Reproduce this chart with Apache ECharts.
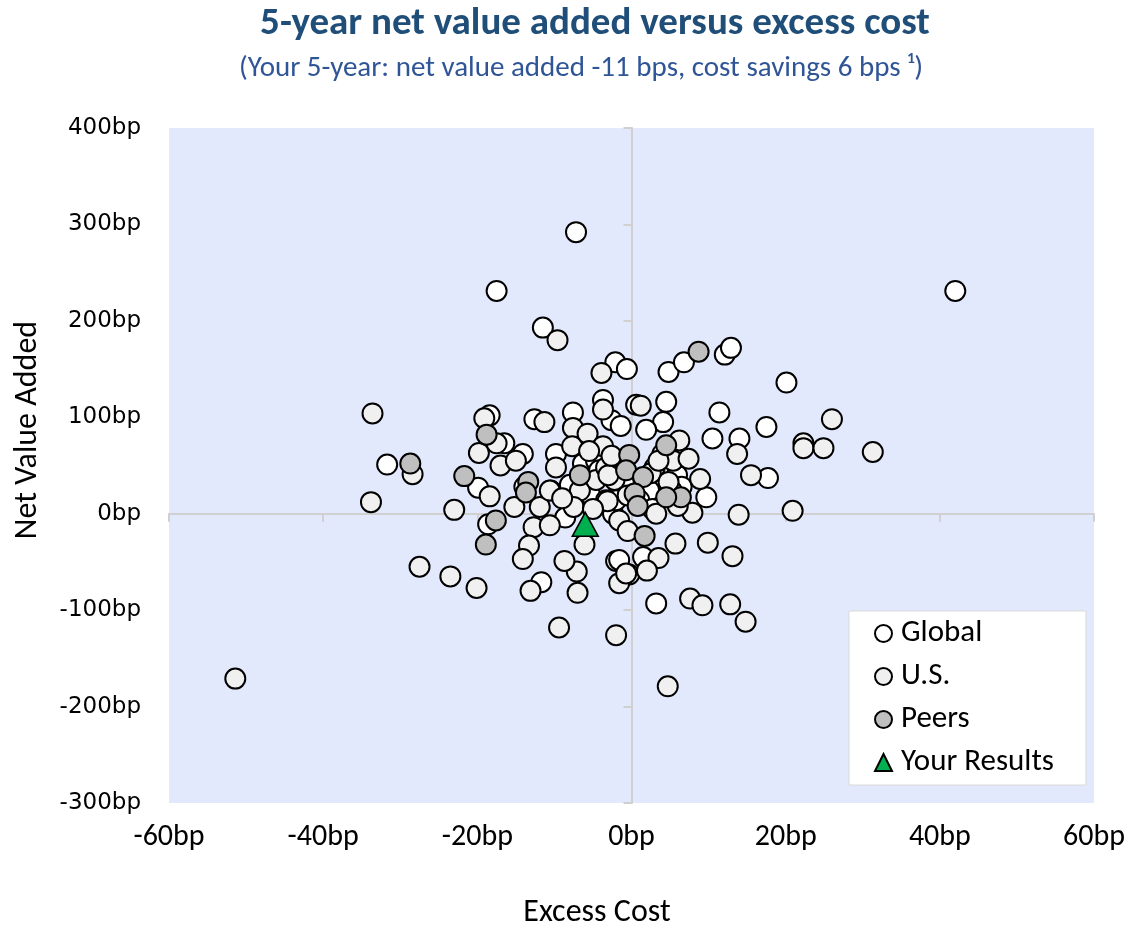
<!DOCTYPE html>
<html>
<head>
<meta charset="utf-8">
<script src="https://cdn.jsdelivr.net/npm/echarts@6/dist/echarts.min.js"></script>
<style>
  html, body { margin: 0; padding: 0; background: #fff; }
  #chart { width: 1128px; height: 930px; }
</style>
</head>
<body>
<div id="chart"></div>
<script>
// [excess cost bp, net value added bp]
const globalPts = [
  [-7.2, 292], [-17.5, 231], [42.0, 231], [-11.5, 193],
  [-31.7, 51], [-18.4, 102], [-12.6, 98], [-7.6, 105], [-3.7, 118], [-2.6, 97],
  [-16.5, 73], [-14.1, 62], [-9.8, 62], [-3.3, 52], [-19.9, 27], [-18.6, -11],
  [-8.6, -4], [-11.7, -71], [-2.0, -49], [-2.4, 0], [-0.3, -63], [-6.3, 52],
  [-4.6, 55], [-1.6, 27], [-2.0, 14], [-10.5, 24], [-8.9, 21], [-13.9, 28],
  [-2.1, 157], [-0.6, 150], [4.8, 147], [6.8, 157], [12.1, 165], [12.9, 172],
  [20.1, 136], [4.5, 116], [0.6, 113], [-1.4, 91], [4.1, 95], [1.9, 87],
  [11.4, 105], [10.5, 78], [14.0, 78], [17.5, 90], [17.7, 37], [9.7, 17],
  [3.2, -93], [3.6, 29], [2.3, 24], [1.0, 14], [1.5, -45], [-1.6, -48],
  [-4.2, 45], [-1.0, 33], [3.0, 48], [5.9, 40], [2.7, 5], [-5.4, 20], [-8.0, 30], [6.5, 28]
];
const usPts = [
  [-9.6, 180], [-3.9, 146], [-33.6, 104], [-28.4, 41], [-33.8, 12], [-23.0, 4],
  [-18.4, 18], [-27.5, -55], [-23.5, -65], [-20.1, -77], [-15.2, 7], [-11.9, 7],
  [-12.7, -14], [-10.6, -12], [-10.6, 24], [-13.3, -33], [-14.1, -47], [-13.1, -80],
  [-17.0, 50], [-19.8, 63], [-19.1, 99], [-17.5, 73], [-15.0, 55], [-11.3, 95],
  [-9.8, 48], [-7.6, 89], [-7.7, 70], [-5.7, 83], [-6.7, 24], [-7.5, 7],
  [-3.3, 14], [-3.7, 70], [-3.7, 108], [1.2, 112], [-1.6, -7], [-0.5, -18],
  [-6.1, -32], [-7.1, -60], [-7.0, -82], [-8.7, -49], [-1.6, -72], [-4.6, 35],
  [-3.3, 48], [-2.2, 35], [-9.4, -118], [-2.0, -126], [4.7, -179], [-51.4, -171],
  [26.0, 98], [13.7, 62], [22.3, 73], [22.3, 68], [24.9, 68], [31.3, 64],
  [15.5, 40], [13.9, -1], [20.9, 3], [8.9, 36], [7.9, 1], [5.7, -31],
  [9.9, -30], [13.1, -44], [3.5, -46], [2.0, -59], [-0.7, -62], [7.6, -88],
  [9.2, -95], [12.8, -94], [14.8, -112], [6.2, 76], [4.0, 62], [5.4, 55],
  [7.4, 57], [3.2, 0], [-3.1, 13], [5.2, 24],
  [-3.0, 40], [-0.5, 19], [2.5, 42], [4.8, 33], [6.0, 8], [-5.0, 5],
  [-9.0, 16], [3.5, 55], [-2.6, 60], [-5.5, 65]
];
const peerPts = [
  [8.7, 168], [-28.7, 52], [-21.7, 39], [-18.8, 82], [-13.4, 33], [-13.7, 22],
  [-6.7, 40], [-0.3, 61], [-0.7, 45], [1.5, 38], [0.4, 21], [0.8, 8],
  [1.7, -23], [-17.6, -7], [-18.9, -32], [4.5, 71], [6.4, 17], [4.5, 17]
];
const yourPts = [[-6, -11]];

const xTicks = { min: -60, max: 60, step: 20 };
const yTicks = { min: -300, max: 400, step: 100 };

const calibri = 'Carlito, Lato, sans-serif';
const zeroLine = { color: '#d0d0d0', width: 2 };

const chart = echarts.init(document.getElementById('chart'));

const dot = (name, pts, fill) => ({
  name: name,
  type: 'scatter',
  data: pts,
  symbol: 'circle',
  symbolSize: 20,
  itemStyle: { color: fill, borderColor: '#000', borderWidth: 2, opacity: 1 },
  emphasis: { disabled: true }
});

chart.setOption({
  animation: false,
  grid: {
    left: 169, right: 32, top: 128, bottom: 127,
    show: true, backgroundColor: '#e2e9fc', borderWidth: 0
  },
  xAxis: [
    {
      type: 'value', position: 'bottom',
      min: xTicks.min, max: xTicks.max, interval: xTicks.step,
      axisLine: { show: false, onZero: false },
      axisTick: { show: false },
      splitLine: { show: false },
      axisLabel: { formatter: '{value}bp', fontFamily: calibri, fontSize: 30, color: '#000', margin: 19 }
    },
    {
      type: 'value', position: 'bottom',
      min: xTicks.min, max: xTicks.max, interval: xTicks.step,
      axisLine: { show: true, onZero: true, onZeroAxisIndex: 0, lineStyle: zeroLine },
      axisTick: { show: true, length: 8, lineStyle: zeroLine },
      splitLine: { show: false },
      axisLabel: { show: false }
    }
  ],
  yAxis: [
    {
      type: 'value', position: 'left',
      min: yTicks.min, max: yTicks.max, interval: yTicks.step,
      axisLine: { show: false, onZero: false },
      axisTick: { show: false },
      splitLine: { show: false },
      axisLabel: { formatter: '{value}bp', fontFamily: 'DejaVu Sans', fontSize: 23, color: '#000', margin: 28 }
    },
    {
      type: 'value', position: 'left',
      min: yTicks.min, max: yTicks.max, interval: yTicks.step,
      axisLine: { show: true, onZero: true, onZeroAxisIndex: 0, lineStyle: zeroLine },
      axisTick: { show: true, length: 8, lineStyle: zeroLine },
      splitLine: { show: false },
      axisLabel: { show: false }
    }
  ],
  legend: {
    orient: 'vertical',
    left: 849, top: 611,
    backgroundColor: '#fff',
    borderColor: '#d9d9d9', borderWidth: 1,
    padding: [7, 32, 7, 25],
    itemWidth: 17, itemHeight: 17, itemGap: 12,
    textStyle: { fontFamily: calibri, fontSize: 31, color: '#000', lineHeight: 31, padding: [0, 0, 0, 4] },
    data: ['Global', 'U.S.', 'Peers', 'Your Results']
  },
  graphic: [
    { type: 'text', x: 595, y: 24, style: { text: '5-year net value added versus excess cost', fontFamily: calibri, fontWeight: 'bold', fontSize: 39, fill: '#1f4e79', align: 'center', verticalAlign: 'middle' } },
    { type: 'text', x: 581, y: 69, style: { text: '(Your 5-year: net value added -11 bps, cost savings 6 bps \u00b9)', fontFamily: calibri, fontSize: 29, fill: '#2f5597', align: 'center', verticalAlign: 'middle' } },
    { type: 'text', x: 28, y: 430, rotation: Math.PI / 2, style: { text: 'Net Value Added', fontFamily: calibri, fontSize: 32, fill: '#000', align: 'center', verticalAlign: 'middle' } },
    { type: 'text', x: 597, y: 913, style: { text: 'Excess Cost', fontFamily: calibri, fontSize: 32, fill: '#000', align: 'center', verticalAlign: 'middle' } }
  ],
  series: [
    dot('Global', globalPts, '#ffffff'),
    dot('U.S.', usPts, '#f0f0f0'),
    dot('Peers', peerPts, '#bfbfbf'),
    {
      name: 'Your Results',
      type: 'scatter',
      data: yourPts,
      symbol: 'triangle',
      symbolSize: [26, 24],
      itemStyle: { color: '#00b050', borderColor: '#000', borderWidth: 1.5, opacity: 1 },
      emphasis: { disabled: true },
      z: 5
    }
  ]
});
</script>
</body>
</html>
